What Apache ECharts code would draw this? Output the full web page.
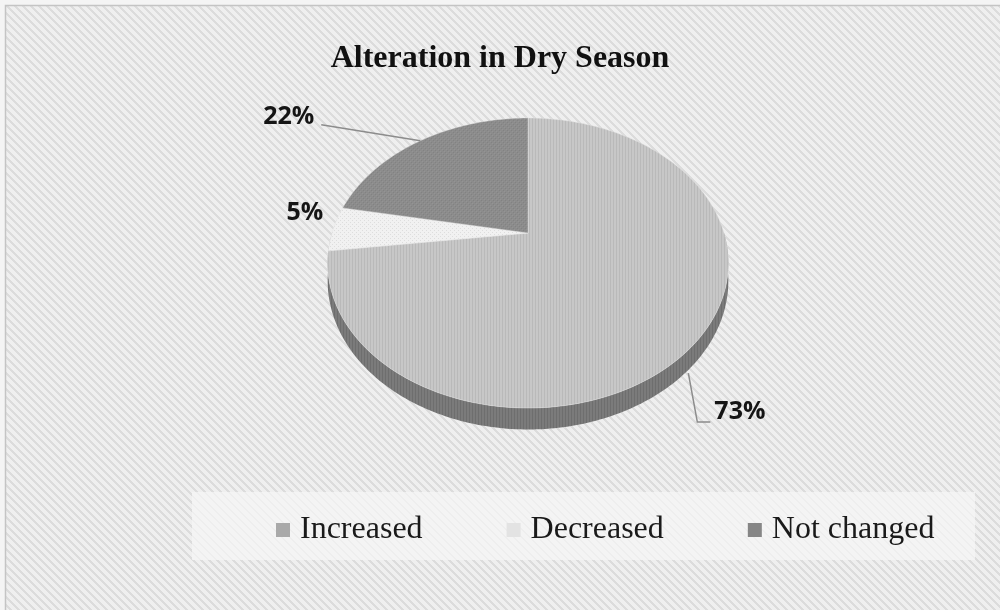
<!DOCTYPE html>
<html>
<head>
<meta charset="utf-8">
<script src="https://cdn.jsdelivr.net/npm/echarts@6/dist/echarts.min.js"></script>
<style>html,body{margin:0;padding:0;background:#fff}#c{width:1000px;height:610px}</style>
</head>
<body>
<div id="c"></div>
<script>
// ---- data ----
const chartTitle = 'Alteration in Dry Season';
const categories = ['Increased', 'Decreased', 'Not changed'];
const values = [73, 5, 22];
const valueLabels = ['73%', '5%', '22%'];

// ---- styles / layout ----
const legendColors = ['#a9a9a9', '#e3e3e3', '#868686'];
const geo = { cx: 528, cy: 233, R: 196, A: 138.8, k: 0.207, D: 17 };
// label offsets relative to slice anchor
const labelLayout = [
  { h: 1, textDx: 16, textDy: 53, align: 'left', line: [[-10, 14], [-1, 63], [12, 63]] },
  { h: 0, textDx: -10, textDy: -16, align: 'right', line: null },
  { h: 0, textDx: -106, textDy: -24, align: 'right', line: [[0, 0], [-99, -16]] }
];

function makePattern(w, h, draw) {
  const c = document.createElement('canvas');
  c.width = w; c.height = h;
  draw(c.getContext('2d'));
  return { image: c, repeat: 'repeat' };
}
const bgPattern = makePattern(8, 8, g => {
  g.fillStyle = '#efefef'; g.fillRect(0, 0, 8, 8);
  g.fillStyle = '#dcdcdc';
  for (let y = 0; y < 8; y++) for (let x = 0; x < 8; x++) {
    const d = ((x - y) % 8 + 8) % 8;
    if (d < 3) g.fillRect(x, y, 1, 1);
  }
});
const legendBoxPattern = makePattern(8, 8, g => {
  g.fillStyle = '#f4f4f4'; g.fillRect(0, 0, 8, 8);
  g.fillStyle = '#eeeeee';
  for (let y = 0; y < 8; y++) for (let x = 0; x < 8; x++) {
    const d = ((x - y) % 8 + 8) % 8;
    if (d < 2) g.fillRect(x, y, 1, 1);
  }
});
const topPatterns = [
  makePattern(3, 4, g => {
    g.fillStyle = '#c7c7c7'; g.fillRect(0, 0, 3, 4);
    g.fillStyle = '#b9b9b9'; g.fillRect(1, 0, 1, 4);
  }),
  makePattern(4, 4, g => {
    g.fillStyle = '#f1f1f1'; g.fillRect(0, 0, 4, 4);
    g.fillStyle = '#dddddd'; g.fillRect(0, 0, 1, 1); g.fillRect(2, 2, 1, 1);
  }),
  makePattern(4, 4, g => {
    g.fillStyle = '#8c8c8c'; g.fillRect(0, 0, 4, 4);
    g.fillStyle = '#828282'; g.fillRect(1, 0, 1, 1); g.fillRect(3, 2, 1, 1);
    g.fillStyle = '#949494'; g.fillRect(0, 3, 1, 1); g.fillRect(2, 1, 1, 1);
  })
];
const wallPatterns = [
  makePattern(3, 4, g => {
    g.fillStyle = '#7b7b7b'; g.fillRect(0, 0, 3, 4);
    g.fillStyle = '#6e6e6e'; g.fillRect(1, 0, 1, 4);
  }),
  makePattern(3, 4, g => { g.fillStyle = '#bdbdbd'; g.fillRect(0, 0, 3, 4); }),
  makePattern(3, 4, g => { g.fillStyle = '#666666'; g.fillRect(0, 0, 3, 4); })
];

function proj(deg, h) {
  const t = deg * Math.PI / 180;
  const s = Math.sin(t);
  const f = 1 / (1 - geo.k * s);
  return [geo.cx + geo.R * Math.cos(t) * f, geo.cy + geo.A * s * f + h * geo.D * f];
}
function arc(a0, a1, h) {
  const pts = [];
  const n = Math.max(2, Math.ceil(Math.abs(a1 - a0)));
  for (let i = 0; i <= n; i++) pts.push(proj(a0 + (a1 - a0) * i / n, h));
  return pts;
}
const total = values.reduce((a, b) => a + b, 0);
function sliceAngles(i) {
  let cum = 0;
  for (let j = 0; j < i; j++) cum += values[j];
  return [-90 + 360 * cum / total, -90 + 360 * (cum + values[i]) / total];
}

function renderSlice(i) {
  const [a0, a1] = sliceAngles(i);
  const children = [];
  const w0 = Math.max(a0, 0), w1 = Math.min(a1, 180);
  if (w1 > w0) {
    const pts = arc(w0, w1, 0).concat(arc(w1, w0, 1));
    children.push({ type: 'polygon', z2: 1, shape: { points: pts }, style: { fill: wallPatterns[i], stroke: null } });
  }
  const topPts = [[geo.cx, geo.cy]].concat(arc(a0, a1, 0));
  children.push({ type: 'polygon', z2: 10, shape: { points: topPts },
    style: { fill: topPatterns[i], stroke: 'rgba(230,230,230,0.5)', lineWidth: 0.8 } });
  const L = labelLayout[i];
  const mid = (a0 + a1) / 2;
  const anc = proj(mid, L.h);
  if (L.line) {
    children.push({ type: 'polyline', z2: 20,
      shape: { points: L.line.map(p => [anc[0] + p[0], anc[1] + p[1]]) },
      style: { stroke: '#8c8c8c', lineWidth: 1.5, fill: null } });
  }
  children.push({ type: 'text', z2: 21,
    style: { text: valueLabels[i], x: anc[0] + L.textDx, y: anc[1] + L.textDy,
      align: L.align, verticalAlign: 'middle',
      font: 'bold 25px "Open Sans", "Liberation Sans", sans-serif', fill: '#151515' } });
  return { type: 'group', children: children };
}

const chart = echarts.init(document.getElementById('c'), null, { renderer: 'canvas' });
const series = categories.map((name, i) => ({
  type: 'custom',
  name: name,
  coordinateSystem: 'none',
  itemStyle: { color: legendColors[i] },
  silent: true,
  animation: false,
  data: [[values[i]]],
  renderItem: () => renderSlice(i)
}));

chart.setOption({
  animation: false,
  title: {
    text: chartTitle, left: 'center', top: 38,
    textStyle: { fontFamily: '"Liberation Serif", "Times New Roman", serif', fontWeight: 'bold', fontSize: 32, color: '#111' }
  },
  legend: {
    data: categories, left: 271, top: 509, icon: 'rect', itemWidth: 14, itemHeight: 14, itemGap: 84,
    selectedMode: false,
    textStyle: { fontFamily: '"Liberation Serif", "Times New Roman", serif', fontSize: 32, color: '#1a1a1a', padding: [0, 0, 0, 5] }
  },
  graphic: [
    { type: 'rect', z: -10, silent: true, shape: { x: 0, y: 0, width: 1000, height: 610 }, style: { fill: bgPattern } },
    { type: 'rect', z: -9, silent: true, shape: { x: 0, y: 0, width: 1000, height: 5 }, style: { fill: '#f4f4f4' } },
    { type: 'rect', z: -9, silent: true, shape: { x: 0, y: 0, width: 5, height: 610 }, style: { fill: '#f4f4f4' } },
    { type: 'rect', z: -8, silent: true, shape: { x: 5.5, y: 5.5, width: 1000, height: 610 }, style: { fill: null, stroke: '#c4c4c4', lineWidth: 1.5 } },
    { type: 'rect', z: -7, silent: true, shape: { x: 192, y: 492, width: 783, height: 68 }, style: { fill: legendBoxPattern } }
  ],
  series: series
});
</script>
</body>
</html>
